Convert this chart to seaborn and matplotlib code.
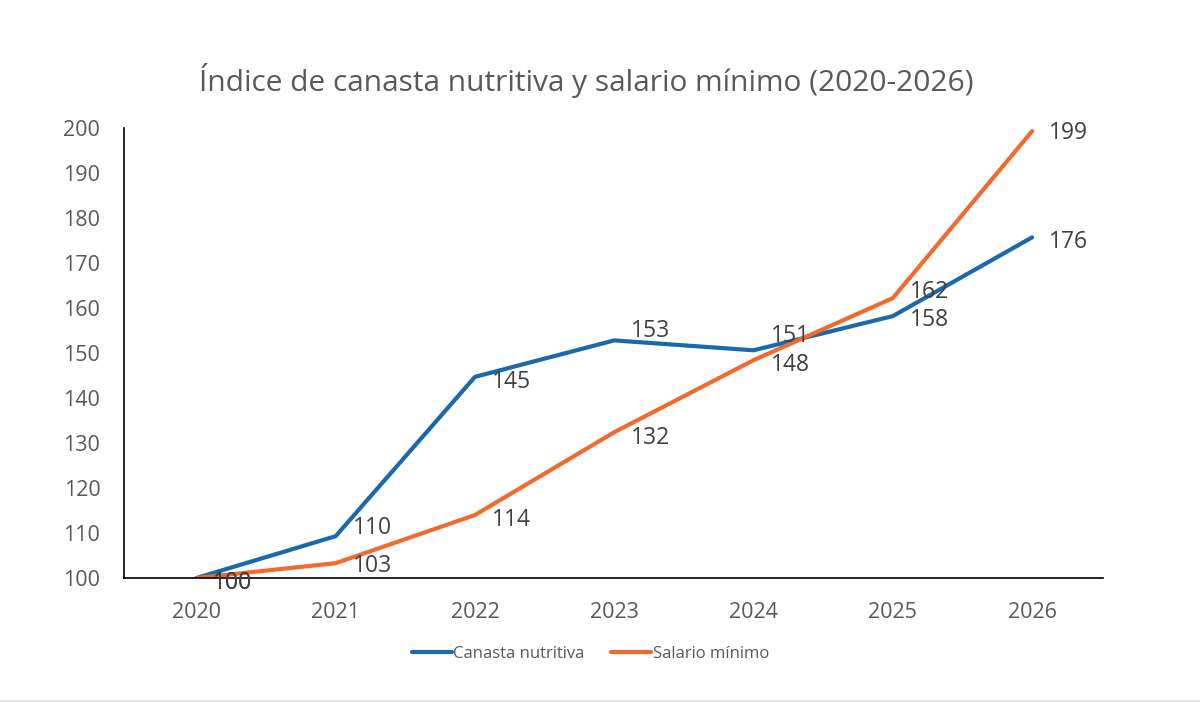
import pandas as pd
import matplotlib.pyplot as plt
import seaborn as sns

years = ['2020', '2021', '2022', '2023', '2024', '2025', '2026']
canasta = [100, 109.3, 144.7, 152.8, 150.6, 158.2, 175.7]
salario = [100, 103.3, 114.0, 132.4, 148.4, 162.2, 199.3]
canasta_labels = ['100', '110', '145', '153', '151', '158', '176']
salario_labels = ['100', '103', '114', '132', '148', '162', '199']

df = pd.DataFrame({
    'year': years * 2,
    'value': canasta + salario,
    'serie': ['Canasta nutritiva'] * 7 + ['Salario mínimo'] * 7,
})

sns.set_theme(style="white")
plt.rcParams['font.family'] = ['Open Sans', 'DejaVu Sans']

blue = '#1A68AE'
orange = '#F26A2E'
text_grey = '#595959'

fig = plt.figure(figsize=(12, 7.02), dpi=100)
ax = fig.add_axes([0.1033, 0.1766, 0.816, 0.6411])

sns.lineplot(data=df, x='year', y='value', hue='serie', palette=[blue, orange],
             linewidth=3, ax=ax, legend=False, sort=False)

# data labels: mostly right of the point, a few nudged up to avoid the lines
blue_dy = [-5, 8, -5, 9, 14, -4, -5]
orange_dy = [-5, -3, -5, -6, -5, 6, -2]
for i in range(len(years)):
    for vals, labs, dys in [(canasta, canasta_labels, blue_dy), (salario, salario_labels, orange_dy)]:
        ax.annotate(labs[i], (i, vals[i]), xytext=(12.2, dys[i] * 0.72), textcoords='offset points',
                    ha='left', va='center', fontsize=16.5, color='#404040')

ax.set_xlim(-0.52, 6.51)
ax.set_ylim(100, 200)
ax.set_yticks(range(100, 201, 10))
ax.tick_params(axis='both', length=0, labelsize=15.5, labelcolor=text_grey)
ax.tick_params(axis='y', pad=17)
ax.tick_params(axis='x', pad=17)
ax.set_xlabel('')
ax.set_ylabel('')
for side in ['top', 'right']:
    ax.spines[side].set_visible(False)
for side in ['left', 'bottom']:
    ax.spines[side].set_color('black')
    ax.spines[side].set_linewidth(1.2)

fig.text(0.489, 0.885, 'Índice de canasta nutritiva y salario mínimo (2020-2026)',
         ha='center', va='center', fontsize=21.5, color=text_grey)

handles = [plt.Line2D([], [], color=blue, lw=3), plt.Line2D([], [], color=orange, lw=3)]
fig.legend(handles, ['Canasta nutritiva', 'Salario mínimo'], loc='center', bbox_to_anchor=(0.492, 0.069),
           ncol=2, frameon=False, fontsize=12, labelcolor=text_grey, handlelength=2.4,
           handletextpad=0.1, columnspacing=1.6)

# faint border line at the bottom of the image
fig.add_artist(plt.Line2D([0, 1], [0.002, 0.002], transform=fig.transFigure, color='#e6e6e6', lw=1.5))

plt.savefig('out.png', dpi=100)
